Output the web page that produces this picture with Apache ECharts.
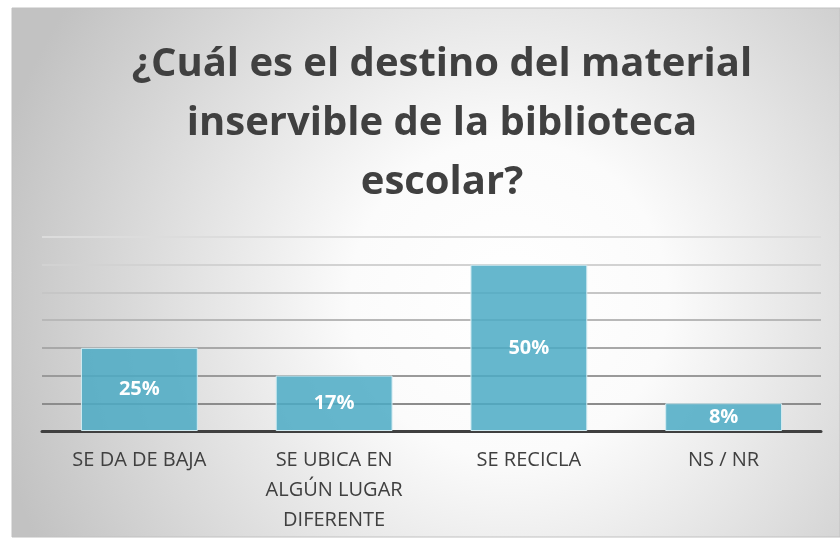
<!DOCTYPE html>
<html>
<head>
<meta charset="utf-8">
<script src="https://cdn.jsdelivr.net/npm/echarts@6/dist/echarts.min.js"></script>
<style>
  html, body { margin: 0; padding: 0; background: #fff; }
  #main { width: 840px; height: 546px; }
</style>
</head>
<body>
<div id="main"></div>
<script>
// respuestas (conteo) y su porcentaje
const categories = ["SE DA DE BAJA", "SE UBICA EN\nALGÚN LUGAR\nDIFERENTE", "SE RECICLA", "NS / NR"];
const counts = [3, 2, 6, 1];
const percentLabels = ["25%", "17%", "50%", "8%"];
const titleText = "¿Cuál es el destino del material\ninservible de la biblioteca\nescolar?";

const chart = echarts.init(document.getElementById("main"));

const option = {
  animation: false,
  graphic: [
    {
      type: "rect",
      z: -10,
      shape: { x: 12, y: 8, width: 828, height: 529 },
      style: {
        fill: {
          type: "radial", x: 0.6, y: 0.55, r: 1.0,
          colorStops: [
            { offset: 0, color: "#ffffff" },
            { offset: 0.3, color: "#fbfbfb" },
            { offset: 1, color: "#c2c2c2" },
          ],
        },
        stroke: "#c0c0c0",
        lineWidth: 1,
      },
    },
  ],
  title: {
    text: titleText,
    left: 437,
    textAlign: "center",
    top: 30,
    textStyle: {
      fontFamily: "Open Sans",
      fontWeight: "bold",
      fontSize: 40,
      lineHeight: 59,
      color: "#404040",
    },
  },
  grid: { left: 42, right: 19, top: 237, bottom: 115 },
  xAxis: {
    type: "category",
    data: categories,
    axisLine: { lineStyle: { color: "#404040", width: 3 } },
    axisTick: { show: false },
    axisLabel: {
      interval: 0,
      margin: 14,
      fontFamily: "Open Sans",
      fontSize: 20,
      lineHeight: 30,
      color: "#404040",
    },
  },
  yAxis: {
    type: "value",
    min: 0,
    max: 7,
    interval: 1,
    axisLabel: { show: false },
    axisLine: { show: false },
    axisTick: { show: false },
    splitLine: {
      lineStyle: {
        width: 2,
        color: ["#8c8c8c", "#8c8c8c", "#9a9a9a", "#a8a8a8", "#b8b8b8", "#c6c6c6", "#d2d2d2", "#dcdcdc"],
      },
    },
  },
  series: [
    {
      type: "bar",
      data: counts,
      barWidth: "60%",
      itemStyle: {
        color: "rgba(75,170,196,0.85)",
        borderColor: "#d3ecf2",
        borderWidth: 1,
      },
      label: {
        show: true,
        position: "inside",
        formatter: (p) => percentLabels[p.dataIndex],
        fontFamily: "Open Sans",
        fontWeight: "bold",
        fontSize: 20,
        color: "#ffffff",
      },
    },
  ],
};

chart.setOption(option);
</script>
</body>
</html>
